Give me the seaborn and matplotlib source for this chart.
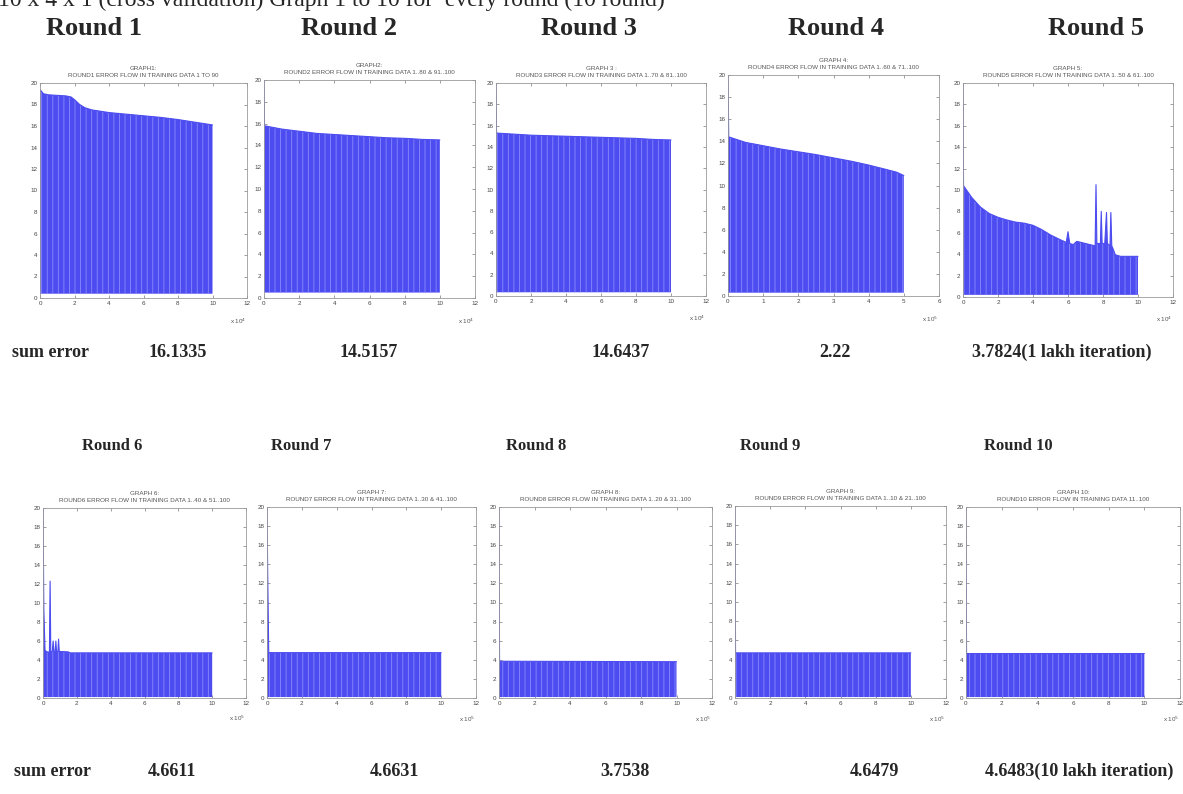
import numpy as np
import pandas as pd
import seaborn as sns
import matplotlib.pyplot as plt

sns.set_style("ticks")
plt.rcParams['font.family'] = ['Liberation Sans', 'DejaVu Sans']
plt.rcParams['hatch.linewidth'] = 0.6

W, H = 1183, 794

header = "10 x 4 x 1 (cross validation) Graph 1 to 10 for  every round (10 round)"
round_labels = ["Round 1", "Round 2", "Round 3", "Round 4", "Round 5",
                "Round 6", "Round 7", "Round 8", "Round 9", "Round 10"]
graph_titles = [
    "GRAPH1:\nROUND1 ERROR FLOW IN TRAINING DATA 1 TO 90",
    "GRAPH2:\nROUND2 ERROR FLOW IN TRAINING DATA 1..80 & 91..100",
    "GRAPH 3 :\nROUND3 ERROR FLOW IN TRAINING DATA 1..70 & 81..100",
    "GRAPH 4:\nROUND4 ERROR FLOW IN TRAINING DATA 1..60 & 71..100",
    "GRAPH 5:\nROUND5 ERROR FLOW IN TRAINING DATA 1..50 & 61..100",
    "GRAPH 6:\nROUND6 ERROR FLOW IN TRAINING DATA 1..40 & 51..100",
    "GRAPH 7:\nROUND7 ERROR FLOW IN TRAINING DATA 1..30 & 41..100",
    "GRAPH 8:\nROUND8 ERROR FLOW IN TRAINING DATA 1..20 & 31..100",
    "GRAPH 9:\nROUND9 ERROR FLOW IN TRAINING DATA 1..10 & 21..100",
    "GRAPH 10:\nROUND10 ERROR FLOW IN TRAINING DATA 11..100",
]
sum_errors = ["16.1335", "14.5157", "14.6437", "2.22", "3.7824(1 lakh iteration)",
              "4.6611", "4.6631", "3.7538", "4.6479", "4.6483(10 lakh iteration)"]
x_units = ["x 10$^4$", "x 10$^4$", "x 10$^4$", "x 10$^5$", "x 10$^4$",
           "x 10$^5$", "x 10$^5$", "x 10$^5$", "x 10$^5$", "x 10$^5$"]
x_max = [12, 12, 12, 6, 12, 12, 12, 12, 12, 12]

# upper envelope of the error trace (knots)
g1_x = [0, 0.2, 0.5, 1, 1.5, 1.8, 2, 2.3, 2.6, 3, 4, 5, 6, 7, 8, 9, 10]
g1_hi = [19.4, 19.0, 18.9, 18.85, 18.8, 18.7, 18.45, 18.0, 17.7, 17.5, 17.25, 17.1, 16.95, 16.8, 16.6, 16.35, 16.1]
g2_x = [0, 0.03, 1, 2, 3, 4, 5, 6, 7, 8, 9, 10]
g2_hi = [20, 15.8, 15.5, 15.3, 15.1, 15.0, 14.9, 14.8, 14.7, 14.65, 14.55, 14.5]
g3_x = [0, 0.03, 1, 2, 3, 4, 5, 6, 7, 8, 9, 10]
g3_hi = [20, 15.3, 15.2, 15.1, 15.05, 15.0, 14.95, 14.9, 14.85, 14.8, 14.7, 14.65]
g4_x = [0, 0.02, 0.5, 1, 1.5, 2, 2.5, 3, 3.5, 4, 4.5, 4.8, 5]
g4_hi = [20, 14.4, 13.9, 13.6, 13.3, 13.05, 12.8, 12.5, 12.2, 11.85, 11.45, 11.2, 10.9]
g5_x = [0, 0.03, 0.5, 1, 1.5, 2, 2.5, 3, 3.5, 4, 4.5, 5, 5.5, 5.9, 6.0, 6.1, 6.3, 6.5, 7,
        7.5, 7.55, 7.6, 7.65, 7.85, 7.9, 7.95, 8.1, 8.2, 8.25, 8.4, 8.45, 8.5, 8.6, 8.7, 9, 10]
g5_hi = [20, 10.4, 9.3, 8.4, 7.8, 7.45, 7.2, 7.0, 6.9, 6.7, 6.3, 5.8, 5.4, 5.1, 6.1, 5.0, 4.9, 5.2, 5.0,
         4.8, 4.8, 10.5, 5.0, 5.0, 8.0, 5.0, 5.0, 7.9, 5.0, 4.8, 7.9, 4.8, 4.4, 3.95, 3.8, 3.8]
g6_x = [0, 0.05, 0.12, 0.3, 0.38, 0.42, 0.46, 0.55, 0.6, 0.65, 0.72, 0.76, 0.8, 0.88, 0.92, 0.96, 1.5, 1.6, 10]
g6_hi = [20, 9.3, 5.0, 4.8, 4.9, 12.3, 4.9, 4.9, 6.0, 4.9, 4.9, 6.0, 4.9, 4.9, 6.2, 4.9, 4.85, 4.75, 4.75]
g7_x = [0, 0.04, 0.1, 10]
g7_hi = [20, 13.0, 4.75, 4.75]
g8_x = [0, 0.03, 10]
g8_hi = [20, 3.85, 3.8]
g9_x = [0, 0.03, 10]
g9_hi = [20, 4.7, 4.7]
g10_x = [0, 0.03, 10]
g10_hi = [20, 4.65, 4.65]
floor = [0.4, 0.5, 0.35, 0.3, 0.2, 0.1, 0.1, 0.1, 0.1, 0.1]

graphs = [(g1_x, g1_hi), (g2_x, g2_hi), (g3_x, g3_hi), (g4_x, g4_hi), (g5_x, g5_hi),
          (g6_x, g6_hi), (g7_x, g7_hi), (g8_x, g8_hi), (g9_x, g9_hi), (g10_x, g10_hi)]

# axes boxes in pixels: left, top, right, bottom
boxes = [(40, 83, 247, 298), (264, 80, 475, 298), (496, 83, 706, 296),
         (728, 75, 939, 296), (963, 83, 1173, 297),
         (43, 508, 246, 698), (267, 507, 476, 698), (499, 507, 712, 698),
         (735, 506, 946, 698), (966, 507, 1180, 698)]
label_pos = [(94, 35), (349, 35), (589, 35), (836, 35), (1096, 35),
             (112, 450), (301, 450), (536, 450), (770, 450), (1018, 450)]
err_pos = [(149, 357), (340, 357), (592, 357), (819, 357), (972, 357),
           (148, 776), (370, 776), (600, 776), (850, 776), (985, 776)]

blue = "#4c4cf0"
fig = plt.figure(figsize=(W / 100, H / 100), dpi=100)

# header line is cut off at the top edge, as in the source page
fig.text(-2 / W, 1 - 6 / H, header, family="Liberation Serif", fontsize=17,
         ha="left", va="baseline")

for i in range(10):
    l, t, r, b = boxes[i]
    ax = fig.add_axes([l / W, 1 - b / H, (r - l) / W, (b - t) / H])
    df = pd.DataFrame({"x": graphs[i][0], "err": graphs[i][1]})
    ax.fill_between(df["x"], floor[i], df["err"], facecolor=blue, edgecolor="#8a8aff",
                    hatch="|||", linewidth=0)
    sns.lineplot(data=df, x="x", y="err", ax=ax, color=blue, linewidth=0.8)
    ax.set_xlim(0, x_max[i])
    ax.set_ylim(0, 20)
    ax.set_xticks(np.arange(0, x_max[i] + 0.1, 1 if x_max[i] == 6 else 2))
    ax.set_yticks(np.arange(0, 21, 2))
    ax.set_xlabel("")
    ax.set_ylabel("")
    ax.tick_params(direction="in", length=2, width=0.5, labelsize=4.5, labelcolor="#444444",
                   color="#777777", top=True, right=True, pad=2)
    for s in ax.spines.values():
        s.set_color("#9a9a9a")
        s.set_linewidth(0.6)
    ax.set_title(graph_titles[i], fontsize=4.5, color="#555555", pad=4, linespacing=1.6)
    ax.text(0.995, -0.085, x_units[i], transform=ax.transAxes, fontsize=4.5,
            color="#555555", ha="right", va="top")

    lx, ly = label_pos[i]
    fig.text(lx / W, 1 - ly / H, round_labels[i], family="Liberation Serif",
             fontweight="bold", fontsize=19 if i < 5 else 12, ha="center", va="baseline")
    ex, ey = err_pos[i]
    fig.text(ex / W, 1 - ey / H, sum_errors[i], family="Liberation Serif",
             fontweight="bold", fontsize=13, ha="left", va="baseline")

fig.text(12 / W, 1 - 357 / H, "sum error", family="Liberation Serif", fontweight="bold",
         fontsize=13, ha="left", va="baseline")
fig.text(14 / W, 1 - 776 / H, "sum error", family="Liberation Serif", fontweight="bold",
         fontsize=13, ha="left", va="baseline")

fig.savefig("out.png", dpi=100)
